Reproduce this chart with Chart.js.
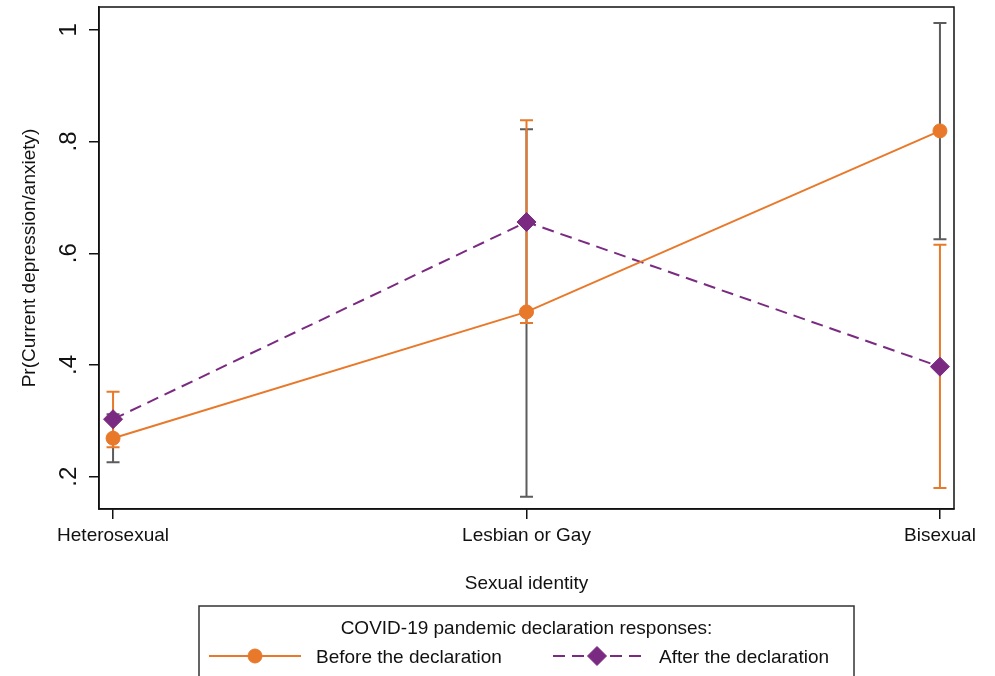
<!DOCTYPE html>
<html><head><meta charset="utf-8">
<script src="https://cdn.jsdelivr.net/npm/chart.js@4.4.0/dist/chart.umd.min.js"></script>
<style>html,body{margin:0;padding:0;background:#fff;} #wrap{width:995px;height:676px;position:relative;}</style>
</head><body><div id="wrap"><canvas id="c" width="995" height="676"></canvas></div>
<script>
// ---- data ----
const categories = ['Heterosexual', 'Lesbian or Gay', 'Bisexual'];
const beforeValues = [0.269, 0.495, 0.819];
const afterValues = [0.303, 0.656, 0.397];
const beforeLow = [0.226, 0.164, 0.625];
const beforeHigh = [0.312, 0.822, 1.012];
const afterLow = [0.253, 0.475, 0.180];
const afterHigh = [0.352, 0.838, 0.615];
const yTickValues = [0.2, 0.4, 0.6, 0.8, 1.0];
const yTickLabels = ['.2', '.4', '.6', '.8', '1'];
const seriesNames = ['Before the declaration', 'After the declaration'];
const legendTitle = 'COVID-19 pandemic declaration responses:';
const xTitle = 'Sexual identity';
const yTitle = 'Pr(Current depression/anxiety)';

// ---- styles ----
const ORANGE = '#e8792b';
const PURPLE = '#7b2a82';
const GREY = '#5c5c5c';
const INK = '#111111';
const FONT = '"Liberation Sans", Arial, Helvetica, sans-serif';

const errorBars = {
  id: 'errorBars',
  beforeDatasetsDraw(chart) {
    const {ctx, scales: {x, y}} = chart;
    const groups = [
      {low: beforeLow, high: beforeHigh, color: GREY},
      {low: afterLow, high: afterHigh, color: ORANGE}
    ];
    ctx.save();
    ctx.lineWidth = 2;
    groups.forEach(g => {
      ctx.strokeStyle = g.color;
      categories.forEach((c, i) => {
        const px = x.getPixelForValue(i);
        const p1 = y.getPixelForValue(g.low[i]);
        const p2 = y.getPixelForValue(g.high[i]);
        ctx.beginPath();
        ctx.moveTo(px, p1); ctx.lineTo(px, p2);
        ctx.moveTo(px - 6.5, p1); ctx.lineTo(px + 6.5, p1);
        ctx.moveTo(px - 6.5, p2); ctx.lineTo(px + 6.5, p2);
        ctx.stroke();
      });
    });
    ctx.restore();
  },
  afterDraw(chart) {
    const {ctx, chartArea: a} = chart;
    ctx.save();
    // plot frame
    ctx.strokeStyle = INK;
    ctx.lineWidth = 1.5;
    ctx.strokeRect(a.left, a.top, a.right - a.left, a.bottom - a.top);
    // legend box
    ctx.strokeStyle = '#333';
    ctx.lineWidth = 1.5;
    ctx.strokeRect(199, 606, 655, 110);
    ctx.fillStyle = INK;
    ctx.font = '19px ' + FONT;
    ctx.textBaseline = 'alphabetic';
    ctx.textAlign = 'center';
    ctx.fillText(legendTitle, 526.5, 634);
    ctx.textAlign = 'left';
    const ds = chart.data.datasets;
    const items = [
      {x0: 209, x1: 301, mx: 255, tx: 316},
      {x0: 553, x1: 644, mx: 597, tx: 659}
    ];
    items.forEach((it, k) => {
      const d = ds[k];
      ctx.save();
      ctx.strokeStyle = d.borderColor;
      ctx.lineWidth = d.borderWidth;
      ctx.setLineDash(d.borderDash || []);
      ctx.beginPath();
      ctx.moveTo(it.x0, 656); ctx.lineTo(it.x1, 656);
      ctx.stroke();
      ctx.setLineDash([]);
      ctx.fillStyle = d.pointBackgroundColor;
      ctx.strokeStyle = d.pointBorderColor;
      ctx.lineWidth = d.pointBorderWidth;
      Chart.helpers.drawPoint(ctx, {pointStyle: d.pointStyle, radius: d.pointRadius, rotation: 0, borderWidth: d.pointBorderWidth}, it.mx, 656);
      ctx.restore();
      ctx.fillStyle = INK;
      ctx.font = '19px ' + FONT;
      ctx.fillText(seriesNames[k], it.tx, 663);
    });
    ctx.restore();
  }
};

new Chart(document.getElementById('c'), {
  type: 'line',
  data: {
    datasets: [
      {
        label: seriesNames[0],
        data: categories.map((c, i) => ({x: i, y: beforeValues[i]})),
        borderColor: ORANGE, backgroundColor: ORANGE, borderWidth: 2,
        pointStyle: 'circle', pointRadius: 7, pointHoverRadius: 7,
        pointBackgroundColor: ORANGE, pointBorderColor: ORANGE, pointBorderWidth: 1,
        tension: 0, fill: false
      },
      {
        label: seriesNames[1],
        data: categories.map((c, i) => ({x: i, y: afterValues[i]})),
        borderColor: PURPLE, backgroundColor: PURPLE, borderWidth: 2, borderDash: [12, 7],
        pointStyle: 'rectRot', pointRadius: 9.5, pointHoverRadius: 9.5,
        pointBackgroundColor: PURPLE, pointBorderColor: PURPLE, pointBorderWidth: 1,
        tension: 0, fill: false
      }
    ]
  },
  options: {
    responsive: false,
    animation: false,
    events: [],
    layout: {autoPadding: false, padding: {top: 7, right: 41, left: 0, bottom: 76}},
    plugins: {legend: {display: false}, tooltip: {enabled: false}},
    scales: {
      x: {
        type: 'linear', min: -0.034, max: 2.034,
        afterBuildTicks: s => { s.ticks = categories.map((c, i) => ({value: i})); },
        afterFit: s => { s.height = 91; s.paddingLeft = 0; s.paddingRight = 0; },
        grid: {display: true, drawOnChartArea: false, drawTicks: true, tickLength: 10, color: INK, lineWidth: 1.5},
        border: {display: true, color: INK, width: 1.5},
        ticks: {
          autoSkip: false, maxRotation: 0, minRotation: 0, padding: 5, color: INK,
          font: {family: FONT, size: 19},
          callback: v => categories[v]
        },
        title: {display: true, text: xTitle, color: INK, font: {family: FONT, size: 19}, padding: {top: 0, bottom: 5}}
      },
      y: {
        type: 'linear', min: 0.1423, max: 1.0407,
        afterBuildTicks: s => { s.ticks = yTickValues.map(v => ({value: v})); },
        afterFit: s => { s.width = 99; s.paddingTop = 0; s.paddingBottom = 0; },
        grid: {display: true, drawOnChartArea: false, drawTicks: true, tickLength: 10, color: INK, lineWidth: 1.5},
        border: {display: true, color: INK, width: 1.5},
        ticks: {
          autoSkip: false, minRotation: 90, maxRotation: 90, crossAlign: 'center', padding: 10, color: INK,
          font: {family: FONT, size: 24},
          callback: v => yTickLabels[yTickValues.findIndex(t => Math.abs(t - v) < 1e-9)]
        },
        title: {display: true, text: yTitle, color: INK, font: {family: FONT, size: 19}, padding: {top: 18, bottom: 0}}
      }
    }
  },
  plugins: [errorBars]
});
</script>
</body></html>
